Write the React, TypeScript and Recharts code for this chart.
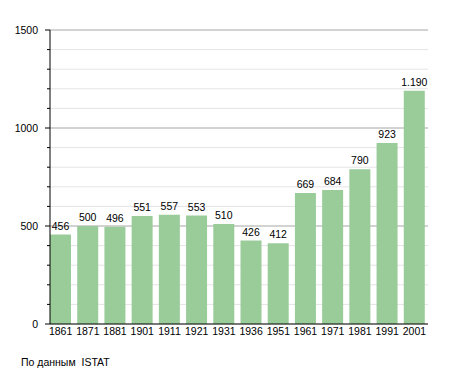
import React from 'react';
import {
  BarChart, Bar, XAxis, YAxis, CartesianGrid, LabelList,
} from 'recharts';

const years = ['1861', '1871', '1881', '1901', '1911', '1921', '1931', '1936', '1951', '1961', '1971', '1981', '1991', '2001'];
const population = [456, 500, 496, 551, 557, 553, 510, 426, 412, 669, 684, 790, 923, 1190];
const yTicks = [0, 100, 200, 300, 400, 500, 600, 700, 800, 900, 1000, 1100, 1200, 1300, 1400, 1500];
const majorTicks = [500, 1000, 1500];

const data = years.map((y, i) => ({ year: y, value: population[i] }));

// 1190 -> "1.190"
const fmt = (v: number) => String(v).replace(/\B(?=(\d{3})+(?!\d))/g, '.');

const FONT = '"Liberation Sans", Arial, sans-serif';

function YTick(props: any) {
  const { x, y, payload } = props;
  const v = payload.value as number;
  const major = v % 500 === 0;
  return (
    <g>
      <line x1={x + (major ? 7 : 9)} x2={x + 12} y1={y} y2={y} stroke="#000" />
      {major && (
        <text x={x} y={y} dy="0.355em" textAnchor="end" fontSize={10.5} fill="#000" fontFamily={FONT}>
          {v}
        </text>
      )}
    </g>
  );
}

export default function App() {
  return (
    <div style={{ position: 'absolute', left: 0, top: 0, width: 455, height: 373, background: '#fff', fontFamily: FONT }}>
      <BarChart
        width={455}
        height={373}
        data={data}
        margin={{ top: 30, right: 27, bottom: 29, left: 0 }}
        style={{ fontFamily: FONT }}
      >
        <CartesianGrid vertical={false} stroke="#e4e4e4" horizontalValues={yTicks} />
        <CartesianGrid vertical={false} stroke="#b4b4b4" horizontalValues={majorTicks} />
        <XAxis
          dataKey="year"
          interval={0}
          tickLine={false}
          tickSize={0}
          tickMargin={4}
          height={20}
          padding={{ left: -3, right: 0 }}
          axisLine={{ stroke: '#000' }}
          tick={{ fontSize: 10.5, fill: '#000' }}
        />
        <YAxis
          width={50}
          domain={[0, 1500]}
          ticks={yTicks}
          interval={0}
          tickLine={false}
          tickSize={5}
          tickMargin={7}
          axisLine={{ stroke: '#000' }}
          tick={<YTick />}
        />
        <Bar dataKey="value" fill="#99cc99" barSize={21} isAnimationActive={false}>
          <LabelList dataKey="value" position="top" offset={5} fontSize={10.5} fill="#000" formatter={(v: any) => fmt(Number(v))} />
        </Bar>
      </BarChart>
      <div style={{ position: 'absolute', left: 21, top: 356, fontSize: 10.5, color: '#000', whiteSpace: 'pre' }}>
        По данным  ISTAT
      </div>
    </div>
  );
}
